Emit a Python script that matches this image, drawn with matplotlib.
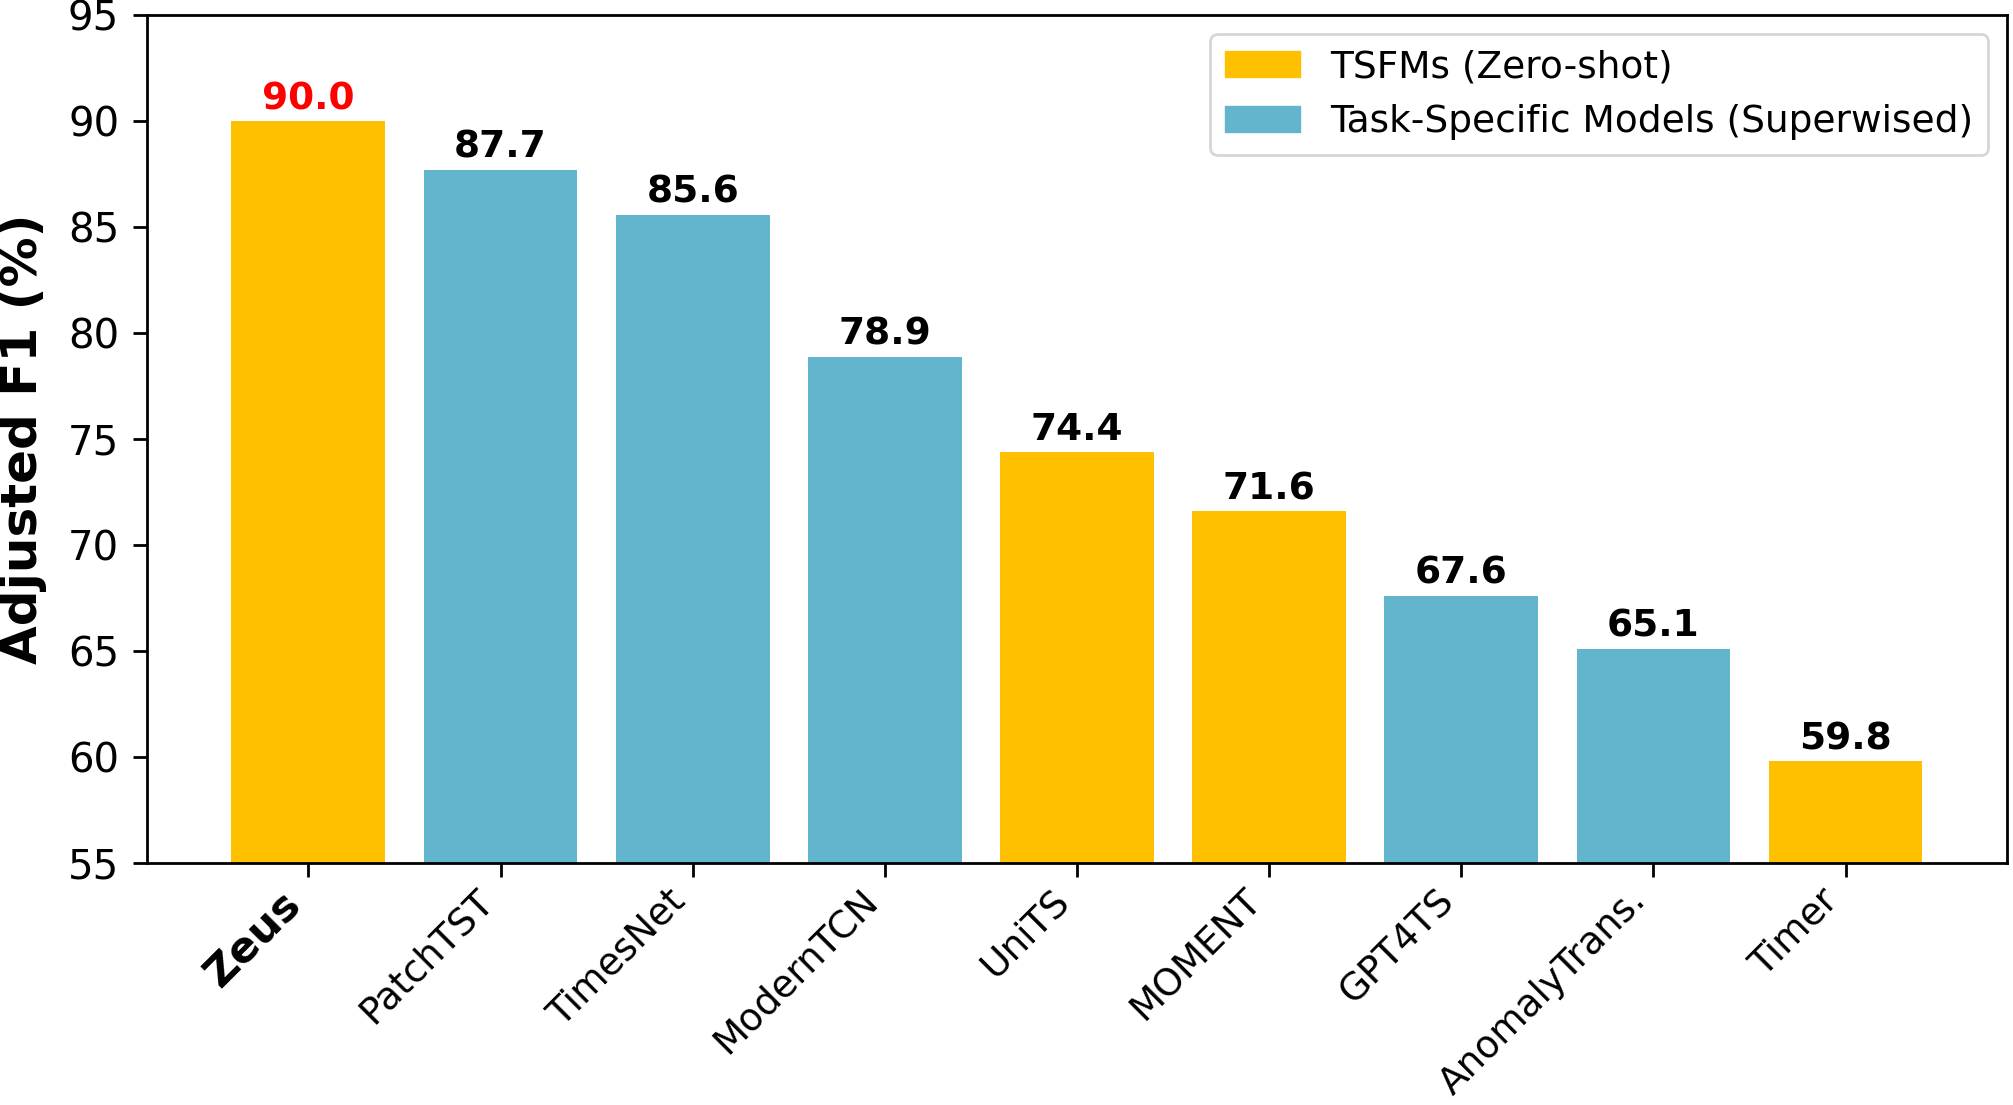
import matplotlib
matplotlib.use("Agg")
import matplotlib.pyplot as plt
from matplotlib.patches import Patch

models = ["Zeus", "PatchTST", "TimesNet", "ModernTCN", "UniTS", "MOMENT",
          "GPT4TS", "AnomalyTrans.", "Timer"]
f1_scores = [90.0, 87.7, 85.6, 78.9, 74.4, 71.6, 67.6, 65.1, 59.8]
is_tsfm = [True, False, False, False, True, True, False, False, True]

gold = "#FFC000"
teal = "#63B4CD"
colors = [gold if t else teal for t in is_tsfm]

fig, ax = plt.subplots(figsize=(20.13, 11.05), dpi=100)
fig.subplots_adjust(left=0.073, right=0.997, top=0.986, bottom=0.219)

x = range(len(models))
bars = ax.bar(x, f1_scores, width=0.8, color=colors)

for i, (b, v) in enumerate(zip(bars, f1_scores)):
    ax.text(b.get_x() + b.get_width() / 2, v + 0.2, f"{v:.1f}",
            ha="center", va="bottom", fontsize=27, fontweight="bold",
            color="red" if i == 0 else "black")

ax.set_ylim(55, 95)
ax.set_yticks(range(55, 96, 5))
ax.set_xticks(list(x))
ax.set_xticklabels(models, rotation=45, ha="right", fontsize=27)
ax.get_xticklabels()[0].set_fontweight("bold")
ax.get_xticklabels()[0].set_fontsize(31)
ax.tick_params(axis="y", labelsize=29, length=10, width=2, pad=10)
ax.tick_params(axis="x", length=10, width=2, pad=4)
for s in ax.spines.values():
    s.set_linewidth(2)
ax.set_ylabel("Adjusted F1 (%)", fontsize=36, fontweight="bold")
ax.yaxis.set_label_coords(-0.054, 0.5)

handles = [Patch(color=gold, label="TSFMs (Zero-shot)"),
           Patch(color=teal, label="Task-Specific Models (Superwised)")]
leg = ax.legend(handles=handles, loc="upper right", fontsize=27)
leg.get_frame().set_edgecolor("#cccccc")
leg.get_frame().set_linewidth(2)

fig.savefig("out.png", dpi=100)
